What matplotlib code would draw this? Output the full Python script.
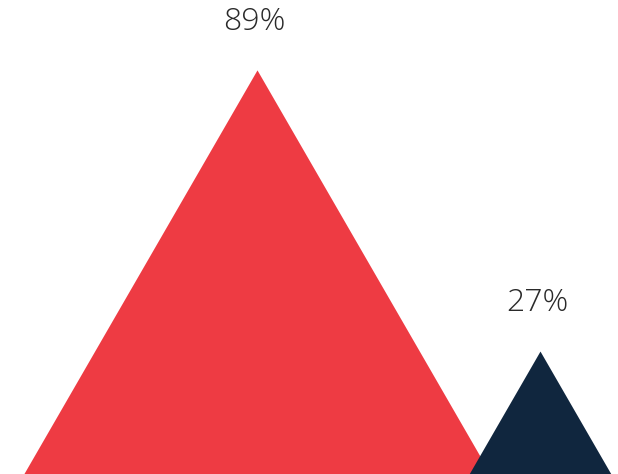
import numpy as np
import matplotlib
matplotlib.use("Agg")
import matplotlib.pyplot as plt
from matplotlib.patches import Polygon

# share of respondents
labels = ["A", "B"]
values = [89, 27]
colors = ["#ee3b43", "#10263e"]

W, H = 618, 474
fig = plt.figure(figsize=(W / 100, H / 100), dpi=100)
ax = fig.add_axes([0, 0, 1, 1])
ax.set_xlim(0, W)
ax.set_ylim(0, H)
ax.axis("off")

scale = 4.535          # px per percentage point
first_x = 257.5
step = 283

for i, (v, c) in enumerate(zip(values, colors)):
    cx = first_x + i * step
    h = v * scale
    half = h / np.sqrt(3)
    tri = Polygon([[cx - half, 0], [cx + half, 0], [cx, h]], closed=True,
                  facecolor=c, edgecolor="none", zorder=2 + i)
    ax.add_patch(tri)
    ax.annotate(f"{v}%", (cx, h), xytext=(-2, 35), textcoords="offset points",
                ha="center", va="center", fontsize=23, color="#2a2a2a",
                family="Open Sans", fontweight=300)

fig.savefig("out.png", dpi=100)
